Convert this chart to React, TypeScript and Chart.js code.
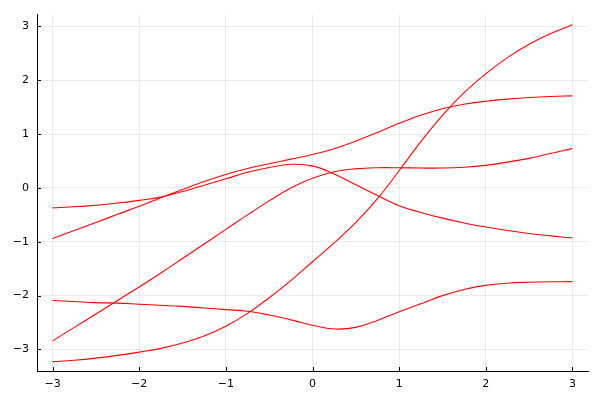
import { useEffect, useRef } from "react";
import { Chart, registerables } from "chart.js";

Chart.register(...registerables);

const xValues = [
  -3, -2.75, -2.5, -2.25, -2, -1.75, -1.5, -1.25, -1, -0.75, -0.5, -0.25, 0,
  0.25, 0.5, 0.75, 1, 1.25, 1.5, 1.75, 2, 2.25, 2.5, 2.75, 3,
];

const seriesUpper = [
  -0.94, -0.79, -0.64, -0.49, -0.34, -0.18, -0.03, 0.12, 0.25, 0.36, 0.45, 0.535, 0.62,
  0.73, 0.87, 1.03, 1.2, 1.35, 1.47, 1.555, 1.61, 1.65, 1.68, 1.7, 1.71,
];
const seriesPeak = [
  -0.37, -0.35, -0.32, -0.28, -0.23, -0.17, -0.065, 0.05, 0.17, 0.29, 0.38, 0.44, 0.41,
  0.26, 0.06, -0.14, -0.33, -0.455, -0.56, -0.65, -0.725, -0.79, -0.845, -0.89, -0.93,
];
const seriesMiddle = [
  -2.84, -2.59, -2.34, -2.09, -1.84, -1.58, -1.31, -1.04, -0.77, -0.5, -0.24, 0.0, 0.18,
  0.3, 0.355, 0.375, 0.375, 0.37, 0.37, 0.385, 0.42, 0.48, 0.55, 0.64, 0.73,
];
const seriesSteep = [
  -3.23, -3.2, -3.16, -3.11, -3.05, -2.98, -2.88, -2.75, -2.57, -2.33, -2.04, -1.72, -1.37,
  -1.02, -0.64, -0.2, 0.32, 0.86, 1.35, 1.77, 2.12, 2.42, 2.67, 2.87, 3.03,
];
const seriesDip = [
  -2.09, -2.11, -2.13, -2.14, -2.16, -2.18, -2.2, -2.23, -2.26, -2.29, -2.36, -2.45, -2.55,
  -2.62, -2.59, -2.46, -2.3, -2.15, -2.0, -1.885, -1.81, -1.77, -1.752, -1.743, -1.74,
];

const allSeries = [seriesUpper, seriesPeak, seriesMiddle, seriesSteep, seriesDip];

const xTicks = [-3, -2, -1, 0, 1, 2, 3];
const yTicks = [-3, -2, -1, 0, 1, 2, 3];
const xMin = -3.18;
const xMax = 3.18;
const yMin = -3.4;
const yMax = 3.22;

const fmt = (v: number) => (v < 0 ? "\u2212" + Math.abs(v) : String(v));

const innerTicks = {
  id: "innerTicks",
  afterDraw(chart: any) {
    const { ctx, chartArea, scales } = chart;
    const { left, bottom } = chartArea;
    ctx.save();
    ctx.strokeStyle = "#000";
    ctx.lineWidth = 1;
    ctx.beginPath();
    for (const v of xTicks) {
      const px = Math.round(scales.x.getPixelForValue(v)) + 0.5;
      ctx.moveTo(px, bottom);
      ctx.lineTo(px, bottom - 4);
    }
    for (const v of yTicks) {
      const py = Math.round(scales.y.getPixelForValue(v)) + 0.5;
      ctx.moveTo(left, py);
      ctx.lineTo(left + 4, py);
    }
    ctx.stroke();
    ctx.restore();
  },
};

export default function App() {
  const ref = useRef<HTMLCanvasElement | null>(null);

  useEffect(() => {
    if (!ref.current) return;
    const chart = new Chart(ref.current, {
      type: "line",
      data: {
        datasets: allSeries.map((s, i) => ({
          label: "y" + (i + 1),
          data: xValues.map((x, j) => ({ x, y: s[j] })),
          borderColor: "#ff0000",
          backgroundColor: "#ff0000",
          borderWidth: 1.1,
          pointRadius: 0,
          tension: 0.4,
          fill: false,
        })),
      },
      options: {
        animation: false,
        responsive: false,
        maintainAspectRatio: false,
        layout: { padding: { top: 12, right: 12, left: 0, bottom: 0 } },
        plugins: { legend: { display: false }, tooltip: { enabled: false } },
        scales: {
          x: {
            type: "linear",
            min: xMin,
            max: xMax,
            afterBuildTicks: (scale: any) => {
              scale.ticks = xTicks.map((v) => ({ value: v }));
            },
            afterFit: (scale: any) => {
              scale.height = 29;
            },
            grid: { color: "rgba(0,0,0,0.08)", lineWidth: 1, drawTicks: false },
            border: { display: true, color: "#000", width: 1 },
            ticks: {
              color: "#000",
              padding: 7,
              maxRotation: 0,
              font: { family: "DejaVu Sans", size: 11 },
              callback: (v: any) => fmt(Number(v)),
            },
          },
          y: {
            type: "linear",
            min: yMin,
            max: yMax,
            afterBuildTicks: (scale: any) => {
              scale.ticks = yTicks.map((v) => ({ value: v }));
            },
            afterFit: (scale: any) => {
              scale.width = 37;
            },
            grid: { color: "rgba(0,0,0,0.08)", lineWidth: 1, drawTicks: false },
            border: { display: true, color: "#000", width: 1 },
            ticks: {
              color: "#000",
              padding: 8,
              font: { family: "DejaVu Sans", size: 11 },
              callback: (v: any) => fmt(Number(v)),
            },
          },
        },
      },
      plugins: [innerTicks],
    });
    return () => chart.destroy();
  }, []);

  return (
    <div style={{ position: "absolute", left: 0, top: 0, width: 600, height: 400, background: "#fff" }}>
      <canvas ref={ref} width={600} height={400} style={{ width: 600, height: 400 }} />
    </div>
  );
}
